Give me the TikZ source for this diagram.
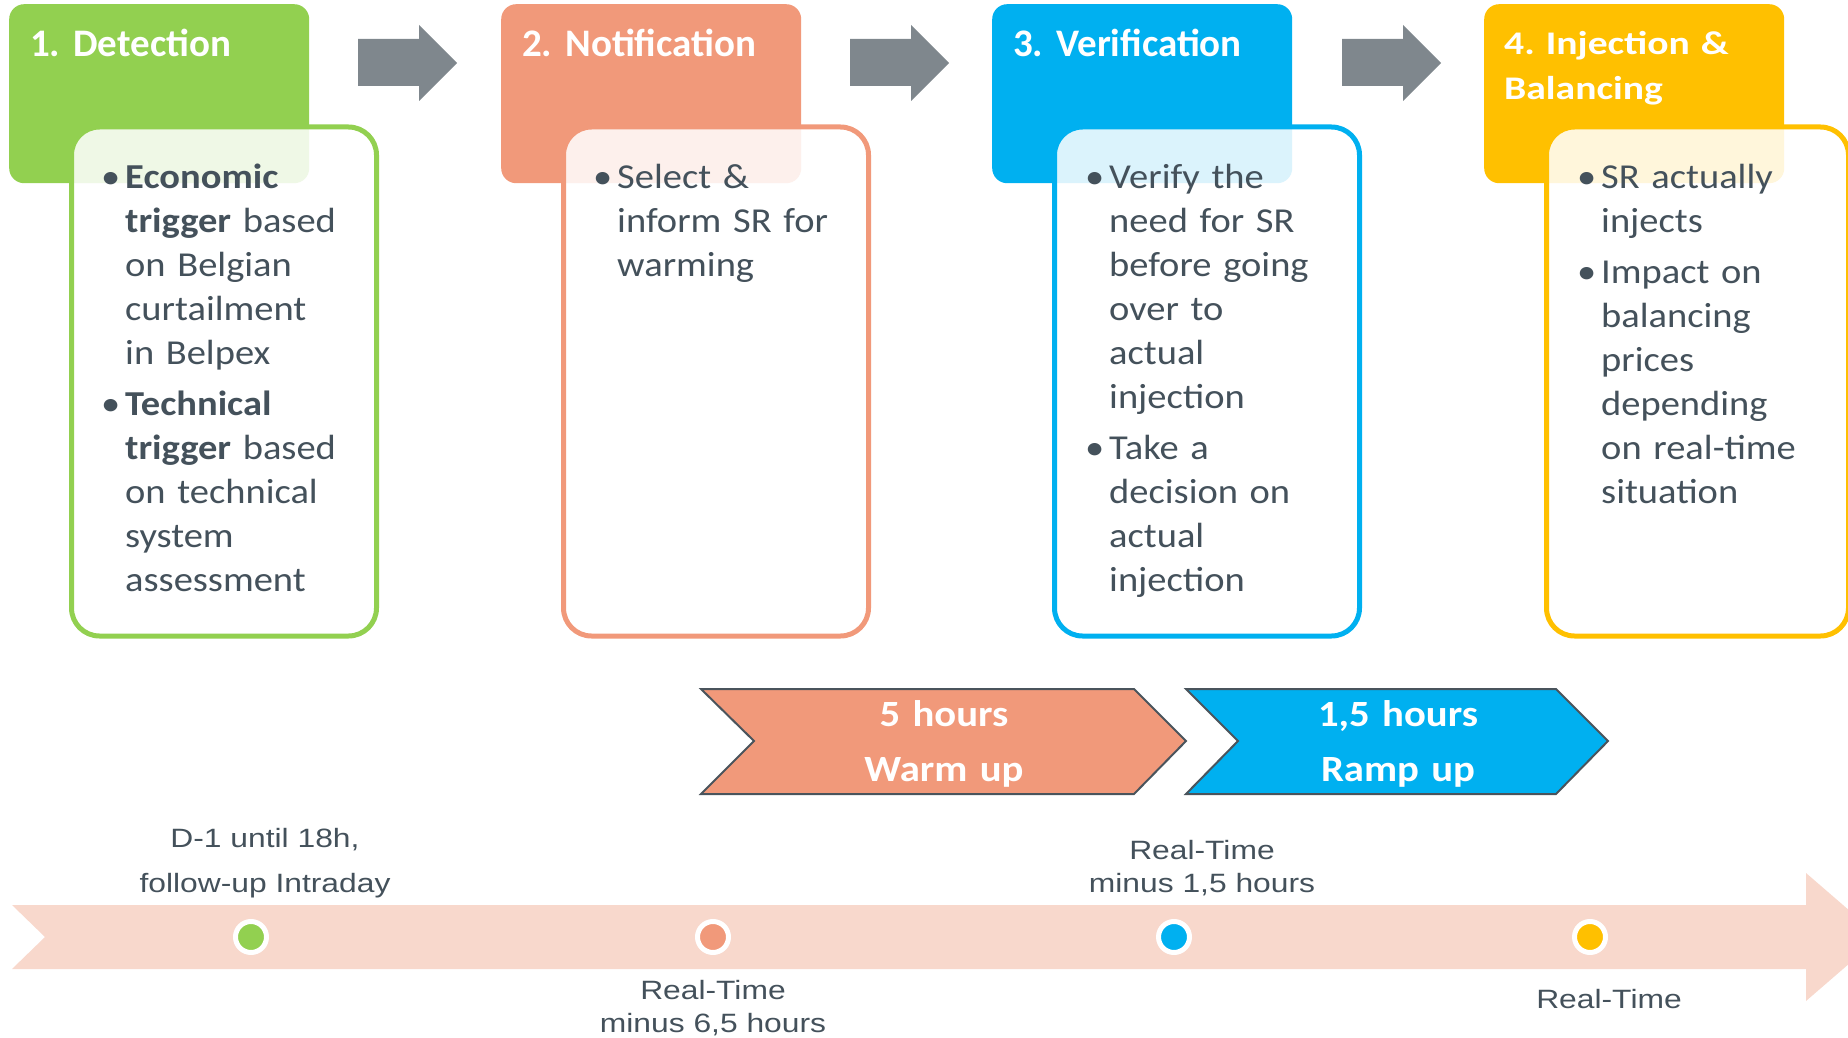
\documentclass[tikz,border=0pt]{standalone}
\usepackage{fontspec}
\setmainfont{Carlito}
\newfontfamily\bodyfont[FakeStretch=1.1]{Carlito}
\newfontfamily\hfourfont[FakeStretch=1.2]{Carlito}
\newfontfamily\chfont[FakeStretch=1.1]{Carlito}
\newfontfamily\tlfont[FakeStretch=1.2]{Liberation Sans}
\definecolor{cgreen}{HTML}{92D050}
\definecolor{csalmon}{HTML}{F1997A}
\definecolor{cblue}{HTML}{00B0F0}
\definecolor{cyellow}{HTML}{FFC000}
\definecolor{cgray}{HTML}{7F878D}
\definecolor{ctext}{HTML}{44515B}
\definecolor{cband}{HTML}{F8D8CC}
\definecolor{cline}{HTML}{4A545C}
\newcommand\bitem[1]{\hangindent=24pt\hangafter=1\noindent\makebox[24pt][l]{\textbullet}#1\par}
\newcommand\bgap{\vspace{7pt}}
\begin{document}
\begin{tikzpicture}[x=1pt,y=-1pt,
  hdr/.style={rounded corners=15pt, minimum width=300pt, minimum height=179pt, anchor=north west, inner sep=0pt, draw=none},
  cbox/.style={rounded corners=28pt, line width=5pt, fill=white, fill opacity=0.86, minimum width=305pt, minimum height=509pt, anchor=north west, inner sep=0pt},
  hdrtxt/.style={anchor=base west, inner sep=0pt, text=white, text width=290pt, align=left, font=\bfseries\fontsize{39}{45}\selectfont},
  body/.style={anchor=base west, inner sep=0pt, text=ctext, text width=290pt, align=left, font=\bodyfont\fontsize{35}{44}\selectfont},
  tl/.style={anchor=base, inner sep=0pt, text=ctext, text width=400pt, align=center},
  chev/.style={draw=cline, line width=2pt},
  chtxt/.style={anchor=base, inner sep=0pt, text=white, text width=400pt, align=center, font=\chfont\bfseries\fontsize{37}{55}\selectfont},
  dot/.style={circle, draw=white, line width=5pt, minimum size=31pt, inner sep=0pt}
]
\useasboundingbox (0,0) rectangle (1848,1038);
% header boxes
\node[hdr, fill=cgreen] (h1) at (9,4) {};
\node[hdr, fill=csalmon] (h2) at (501,4) {};
\node[hdr, fill=cblue] (h3) at (992,4) {};
\node[hdr, fill=cyellow] (h4) at (1484,4) {};
% gray block arrows
\foreach \a in {358,850,1342}
  \fill[cgray] (\a,39) -- (\a+61,39) -- (\a+61,25) -- (\a+99,63) -- (\a+61,101) -- (\a+61,86) -- (\a,86) -- cycle;
% content boxes
\node[cbox, draw=cgreen] (c1) at (69,124.5) {};
\node[cbox, draw=csalmon] (c2) at (561,124.5) {};
\node[cbox, draw=cblue] (c3) at (1052,124.5) {};
\node[cbox, draw=cyellow, minimum width=302pt] (c4) at (1544,124.5) {};
% header texts
\node[hdrtxt] (ht1) at (30,57) {1.\ Detection};
\node[hdrtxt] (ht2) at (522,57) {2.\ Notification};
\node[hdrtxt] (ht3) at (1013,57) {3.\ Verification};
\node[hdrtxt, font=\hfourfont\bfseries\fontsize{33}{45}\selectfont] (ht4) at (1504,55) {4.\ Injection \&\\Balancing};
% body texts
\node[body] (b1) at (101,189) {\bitem{\textbf{Economic}\newline\textbf{trigger} based\newline on Belgian\newline curtailment\newline in Belpex}\bgap\bitem{\textbf{Technical}\newline\textbf{trigger} based\newline on technical\newline system\newline assessment}};
\node[body] (b2) at (593,189) {\bitem{Select \&\newline inform SR for\newline warming}};
\node[body] (b3) at (1085,189) {\bitem{Verify the\newline need for SR\newline before going\newline over to\newline actual\newline injection}\bgap\bitem{Take a\newline decision on\newline actual\newline injection}};
\node[body] (b4) at (1577,189) {\bitem{SR actually\newline injects}\bgap\bitem{Impact on\newline balancing\newline prices\newline depending\newline on real-time\newline situation}};
% chevrons
\path[chev, fill=csalmon] (701,689) -- (1134,689) -- (1186,741) -- (1134,794) -- (701,794) -- (754,741) -- cycle;
\path[chev, fill=cblue] (1186,689) -- (1556,689) -- (1608,741) -- (1556,794) -- (1186,794) -- (1238,741) -- cycle;
\node[chtxt] (w1) at (944,726) {5 hours\\Warm up};
\node[chtxt] (w2) at (1398,726) {1,5 hours\\Ramp up};
% timeline band
\fill[cband] (12,905) -- (1806,905) -- (1806,873) -- (1880,937) -- (1806,1001) -- (1806,969) -- (12,969) -- (45,937) -- cycle;
\node[dot, fill=cgreen] (d1) at (251,937) {};
\node[dot, fill=csalmon] (d2) at (713,937) {};
\node[dot, fill=cblue] (d3) at (1174,937) {};
\node[dot, fill=cyellow] (d4) at (1590,937) {};
% timeline labels
\node[tl, font=\tlfont\fontsize{26.5}{45}\selectfont] (l1) at (265,847) {D-1 until 18h,\\follow-up Intraday};
\node[tl, font=\tlfont\fontsize{26.5}{33}\selectfont] (l2) at (713,999) {Real-Time\\minus 6,5 hours};
\node[tl, font=\tlfont\fontsize{26.5}{33}\selectfont] (l3) at (1202,859) {Real-Time\\minus 1,5 hours};
\node[tl, font=\tlfont\fontsize{26.5}{33}\selectfont] (l4) at (1609,1008) {Real-Time};
\end{tikzpicture}
\end{document}
